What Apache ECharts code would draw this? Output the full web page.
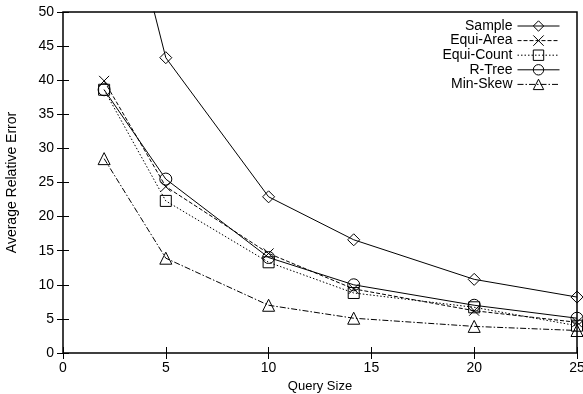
<!DOCTYPE html>
<html>
<head>
<meta charset="utf-8">
<script src="https://cdn.jsdelivr.net/npm/echarts@6/dist/echarts.min.js"></script>
<style>
  html, body {margin: 0; padding: 0; background: #fff;}
  #chart {width: 583px; height: 394px;}
</style>
</head>
<body>
<div id="chart"></div>
<script>
// values
var querySize = [2, 5, 10, 14.14, 20, 25];
var sample    = [79, 43.3, 22.9, 16.6, 10.8, 8.2];
var equiArea  = [39.9, 24.4, 14.6, 9.4, 6.2, 4.5];
var equiCount = [38.6, 22.3, 13.3, 8.8, 6.7, 4.0];
var rTree     = [38.6, 25.5, 14.0, 10.0, 7.0, 5.1];
var minSkew   = [28.5, 13.9, 7.0, 5.1, 3.9, 3.3];
var xTicks = [0, 25, 5];   // min, max, step
var yTicks = [0, 50, 5];

var font = 'Liberation Sans, Arial, sans-serif';
var crossPath = 'path://M0,0L10,10M10,0L0,10';

function pairs(ys) {
  return querySize.map(function (x, i) { return [x, ys[i]]; });
}

function line(name, ys, symbol, size, dash) {
  return {
    name: name,
    type: 'line',
    data: pairs(ys),
    symbol: symbol,
    symbolSize: size,
    clip: true,
    lineStyle: {color: '#000', width: 1, type: dash},
    itemStyle: {color: 'rgba(0,0,0,0)', borderColor: '#000', borderWidth: 1},
    emphasis: {disabled: true}
  };
}

var myChart = echarts.init(document.getElementById('chart'));
var hiddenAxis = {
  type: 'value',
  axisLine: {show: false},
  axisTick: {show: true, inside: true, length: 6, lineStyle: {color: '#000'}},
  axisLabel: {show: false},
  splitLine: {show: false}
};
myChart.setOption({
  animation: false,
  backgroundColor: '#fff',
  textStyle: {fontFamily: font},
  grid: {left: 63, right: 6, top: 12, bottom: 41, outerBoundsMode: 'none', show: true, borderColor: '#000', borderWidth: 1.5},
  legend: {
    orient: 'vertical',
    align: 'right',
    right: 18,
    top: 14,
    itemWidth: 42,
    itemHeight: 13,
    itemGap: 0.6,
    lineStyle: {width: 1},
    itemStyle: {borderWidth: 1},
    textStyle: {fontFamily: font, fontSize: 14, color: '#000', lineHeight: 12},
    data: ['Sample', 'Equi-Area', 'Equi-Count', 'R-Tree', 'Min-Skew']
  },
  xAxis: [{
    type: 'value',
    min: xTicks[0], max: xTicks[1], interval: xTicks[2],
    name: 'Query Size',
    nameLocation: 'middle',
    nameGap: 19,
    nameTextStyle: {fontFamily: font, fontSize: 13, color: '#000'},
    axisLine: {show: false},
    axisTick: {inside: true, length: 6, lineStyle: {color: '#000'}},
    axisLabel: {color: '#000', fontSize: 14, margin: 8, fontFamily: font},
    splitLine: {show: false}
  }, Object.assign({}, hiddenAxis, {position: 'top', min: xTicks[0], max: xTicks[1], interval: xTicks[2]})],
  yAxis: [{
    type: 'value',
    min: yTicks[0], max: yTicks[1], interval: yTicks[2],
    name: 'Average Relative Error',
    nameLocation: 'middle',
    nameGap: 44,
    nameTextStyle: {fontFamily: font, fontSize: 14, color: '#000'},
    axisLine: {show: false},
    axisTick: {inside: true, length: 6, lineStyle: {color: '#000'}},
    axisLabel: {color: '#000', fontSize: 14, margin: 9, fontFamily: font},
    splitLine: {show: false}
  }, Object.assign({}, hiddenAxis, {position: 'right', min: yTicks[0], max: yTicks[1], interval: yTicks[2]})],
  series: [
    line('Sample', sample, 'diamond', 12, 'solid'),
    line('Equi-Area', equiArea, crossPath, 10, [4, 2]),
    line('Equi-Count', equiCount, 'rect', 11, [1.5, 2]),
    line('R-Tree', rTree, 'circle', 12, 'solid'),
    line('Min-Skew', minSkew, 'triangle', 12, [6, 2, 1.5, 2])
  ]
});
</script>
</body>
</html>
